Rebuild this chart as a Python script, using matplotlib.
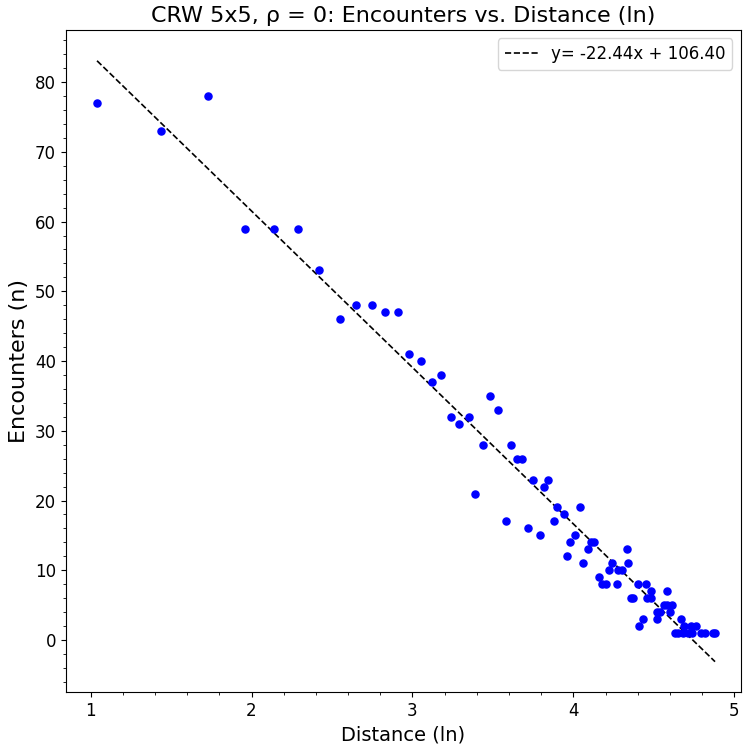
import numpy as np
import matplotlib
matplotlib.use('Agg')
from matplotlib import pyplot as plt
from matplotlib.ticker import MultipleLocator

# ln(distance) and encounter counts
distance_ln = [1.04, 1.44, 1.73, 1.96, 2.14, 2.29, 2.42, 2.55, 2.65, 2.75,
               2.83, 2.91, 2.98, 3.05, 3.12, 3.18, 3.24, 3.29, 3.35, 3.39,
               3.44, 3.48, 3.53, 3.58, 3.61, 3.65, 3.68, 3.72, 3.75, 3.79,
               3.82, 3.84, 3.88, 3.90, 3.94, 3.96, 3.98, 4.01, 4.04, 4.06,
               4.09, 4.11, 4.13, 4.16, 4.18, 4.20, 4.22, 4.24, 4.27, 4.28,
               4.30, 4.33, 4.34, 4.36, 4.37, 4.40, 4.41, 4.43, 4.45, 4.46,
               4.48, 4.48, 4.52, 4.52, 4.54, 4.56, 4.58, 4.58, 4.60, 4.61,
               4.63, 4.65, 4.67, 4.68, 4.69, 4.71, 4.73, 4.74, 4.76, 4.79,
               4.82, 4.87, 4.88]
encounters = [77, 73, 78, 59, 59, 59, 53, 46, 48, 48,
              47, 47, 41, 40, 37, 38, 32, 31, 32, 21,
              28, 35, 33, 17, 28, 26, 26, 16, 23, 15,
              22, 23, 17, 19, 18, 12, 14, 15, 19, 11,
              13, 14, 14, 9, 8, 8, 10, 11, 8, 10,
              10, 13, 11, 6, 6, 8, 2, 3, 8, 6,
              6, 7, 4, 3, 4, 5, 5, 7, 4, 5,
              1, 1, 3, 1, 2, 1, 2, 1, 2, 1,
              1, 1, 1]
slope = -22.44
intercept = 106.40

x = np.array(distance_ln)
y = np.array(encounters)

fig = plt.figure(figsize=(7.46, 7.46), dpi=100)
ax = fig.add_subplot(111)
fig.subplots_adjust(left=0.088, right=0.993, top=0.96, bottom=0.072)

ax.scatter(x, y, color='blue', s=26, zorder=3)
xs = np.array([x.min(), x.max()])
ax.plot(xs, slope * xs + intercept, 'k--', lw=1.2,
        label='y= %.2fx + %.2f' % (slope, intercept))

ax.set_xlim(0.845, 5.04)
ax.set_ylim(-7.5, 87.5)
ax.xaxis.set_major_locator(MultipleLocator(1))
ax.xaxis.set_minor_locator(MultipleLocator(0.2))
ax.yaxis.set_major_locator(MultipleLocator(10))
ax.yaxis.set_minor_locator(MultipleLocator(2))
ax.tick_params(labelsize=12)
ax.set_title('CRW 5x5, ρ = 0: Encounters vs. Distance (ln)', fontsize=16)
ax.set_xlabel('Distance (ln)', fontsize=14)
ax.set_ylabel('Encounters (n)', fontsize=16)
ax.legend(loc='upper right', fontsize=12)

fig.savefig('out.png', dpi=100)
